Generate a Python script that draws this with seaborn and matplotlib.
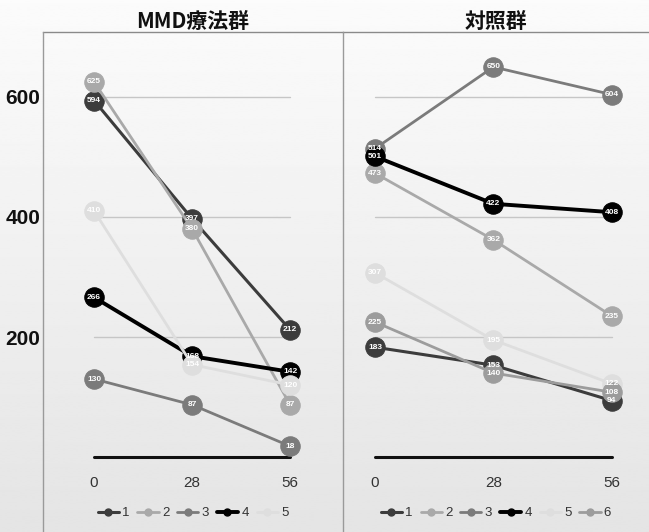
import matplotlib
matplotlib.use("Agg")
import matplotlib.pyplot as plt
from matplotlib.lines import Line2D
import seaborn as sns
import numpy as np
import pandas as pd

# Days of observation
days = [0, 28, 56]

# MMD therapy group
mmd_1 = [594, 397, 212]
mmd_2 = [625, 380, 87]
mmd_3 = [130, 87, 18]
mmd_4 = [266, 168, 142]
mmd_5 = [410, 154, 120]

# Control group
ctrl_1 = [183, 153, 94]
ctrl_2 = [473, 362, 235]
ctrl_3 = [514, 650, 604]
ctrl_4 = [501, 422, 408]
ctrl_5 = [307, 195, 122]
ctrl_6 = [225, 140, 108]

titles = ["MMD療法群", "対照群"]
y_ticks = [200, 400, 600]

palette = {"1": "#3c3c3c", "2": "#a9a9a9", "3": "#7b7b7b",
           "4": "#000000", "5": "#dedede", "6": "#9c9c9c"}
widths = {"1": 2.2, "2": 2.0, "3": 2.0, "4": 2.8, "5": 2.0, "6": 2.0}


def long_frame(series):
    rows = []
    for name, vals in series.items():
        for d, v in zip(days, vals):
            rows.append({"day": d, "value": v, "series": name})
    return pd.DataFrame(rows)


groups = [
    {"1": mmd_1, "2": mmd_2, "3": mmd_3, "4": mmd_4, "5": mmd_5},
    {"1": ctrl_1, "2": ctrl_2, "3": ctrl_3, "4": ctrl_4, "5": ctrl_5, "6": ctrl_6},
]

sns.set_theme(style="white")
plt.rcParams["font.family"] = ["Liberation Sans", "Noto Sans CJK JP", "DejaVu Sans"]

W, H = 649, 532
fig = plt.figure(figsize=(W / 100, H / 100), dpi=100, facecolor="#ebebeb")

# soft vertical background gradient, light at the top and grey at the bottom
bg = fig.add_axes([0, 0, 1, 1], zorder=-10)
grad = np.linspace(0.985, 0.895, 256).reshape(-1, 1)
bg.imshow(grad, aspect="auto", cmap="gray", vmin=0, vmax=1,
          extent=(0, 1, 0, 1), origin="upper")
bg.set_axis_off()

top_px, bot_px = 32, 465
panels = [(43, 343, (-14.6, 71.1)), (343, 649, (-7.56, 64.8))]
ylim = (-13.3, 708.3)

for i, (grp, (x0, x1, xlim)) in enumerate(zip(groups, panels)):
    ax = fig.add_axes([x0 / W, 1 - bot_px / H, (x1 - x0) / W, (bot_px - top_px) / H])
    ax.patch.set_alpha(0)
    df = long_frame(grp)
    names = list(grp.keys())

    # reference lines
    for yv in y_ticks:
        ax.plot([days[0], days[-1]], [yv, yv], color="#c6c6c6", lw=1.0, zorder=1)
    ax.plot([days[0], days[-1]], [0, 0], color="#111111", lw=2.2, zorder=1)

    for k, name in enumerate(names):
        sub = df[df["series"] == name]
        sns.lineplot(data=sub, x="day", y="value", ax=ax, color=palette[name],
                     lw=widths[name], marker="o", markersize=14,
                     markeredgecolor=palette[name], legend=False, zorder=3 + k)
        for d, v in zip(sub["day"], sub["value"]):
            ax.text(d, v, str(v), ha="center", va="center", color="white",
                    fontsize=6, fontweight="bold", zorder=20 + k)

    ax.set_xlim(*xlim)
    ax.set_ylim(*ylim)
    ax.set_xticks(days)
    ax.set_xticklabels([str(d) for d in days], fontsize=11, color="#333333")
    ax.tick_params(axis="x", length=0, pad=8)
    ax.set_xlabel("")
    ax.set_ylabel("")
    if i == 0:
        ax.set_yticks(y_ticks)
        ax.set_yticklabels([str(t) for t in y_ticks], fontsize=15,
                           fontweight="bold", color="#111111")
        ax.tick_params(axis="y", length=0, pad=2)
    else:
        ax.set_yticks([])
    for s in ["right", "bottom"]:
        ax.spines[s].set_visible(False)
    ax.spines["top"].set_color("#8a8a8a")
    ax.spines["top"].set_linewidth(1.0)
    ax.spines["left"].set_visible(False)

    # legend under each panel
    handles = [Line2D([0], [0], color=palette[n], lw=widths[n], marker="o",
                      markersize=5, markeredgecolor=palette[n]) for n in names]
    leg = ax.legend(handles, names, loc="upper center",
                    bbox_to_anchor=(0.5, -0.07), ncol=len(names), frameon=False,
                    fontsize=9.5, handlelength=1.6, handletextpad=0.25,
                    columnspacing=0.6)
    for t in leg.get_texts():
        t.set_color("#333333")

    cx = (x0 + x1) / 2 / W
    fig.text(cx, 1 - 21 / H, titles[i], ha="center", va="center", fontsize=15,
             fontweight="bold", color="#111111",
             family=["Noto Sans CJK JP", "DejaVu Sans"])

# panel borders
for xp in (43, 343):
    fig.add_artist(Line2D([xp / W, xp / W], [0, 1 - top_px / H],
                          color="#9a9a9a", lw=1.0))

fig.savefig("out.png", dpi=100, facecolor=fig.get_facecolor())
